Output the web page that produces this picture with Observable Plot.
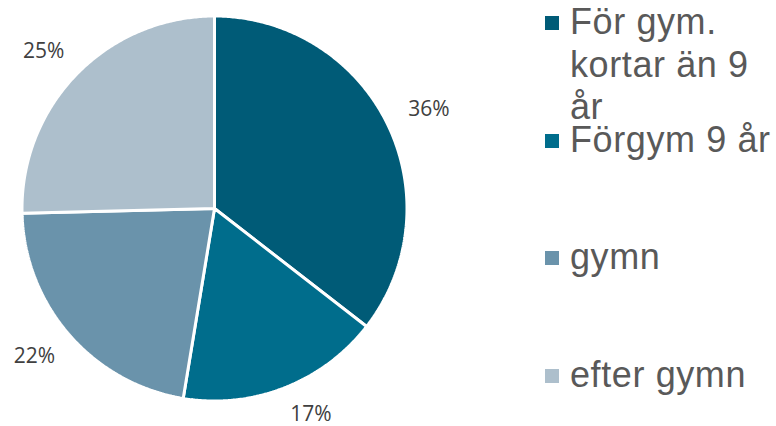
<!DOCTYPE html>
<html><head><meta charset="utf-8">
<script src="https://cdn.jsdelivr.net/npm/d3@7"></script>
<script src="https://cdn.jsdelivr.net/npm/@observablehq/plot@0.6"></script>
<style>
body{margin:0;background:#fff;}
#wrap{position:relative;width:776px;height:426px;overflow:hidden;}
#legend{position:absolute;left:545px;top:0;font-family:"Liberation Sans",Arial,sans-serif;font-size:36px;color:#595959;letter-spacing:0.6px;}
.item{position:absolute;left:0;display:flex;align-items:flex-start;line-height:42.5px;}
.sw{width:14px;height:14px;flex:none;margin-top:15px;margin-right:11px;}
.tx{width:210px;}
</style></head>
<body>
<div id="wrap"><div id="chart"></div><div id="legend"></div></div>
<script>
const categories = ["För gym. kortar än 9 år", "Förgym 9 år", "gymn", "efter gymn"];
const shares = [35.5, 17.1, 22.0, 25.4];
const colors = ["#005b77", "#006d8c", "#6a93ab", "#adbfcc"];

const total = d3.sum(shares);
let acc = 0;
const slices = categories.map((c, i) => {
  const a0 = acc / total * 2 * Math.PI;
  acc += shares[i];
  const a1 = acc / total * 2 * Math.PI;
  return {c, v: shares[i], a0, a1};
});
const outline = slices.flatMap(s => {
  const n = Math.max(2, Math.ceil((s.a1 - s.a0) / (Math.PI / 360)));
  const pts = [{c: s.c, x: 0, y: 0}];
  for (let k = 0; k <= n; k++) {
    const a = s.a0 + (s.a1 - s.a0) * k / n;
    pts.push({c: s.c, x: Math.sin(a), y: Math.cos(a)});
  }
  return pts;
});
const cx = 214, cy = 208, r = 192.5;
const Rx = 1.24, Ry = 1.17;
const yMin = -(414 - cy) / r;
const labels = slices.map(s => {
  const m = (s.a0 + s.a1) / 2;
  let x = Rx * Math.sin(m), y = Ry * Math.cos(m);
  if (y < yMin) { y = yMin; x = Math.sign(x) * Rx * Math.sqrt(1 - (y / Ry) ** 2); }
  return {x, y, label: Math.round(s.v / total * 100) + "%"};
});

const chart = Plot.plot({
  width: 776, height: 426, margin: 0,
  style: {background: "white"},
  x: {domain: [-1, 1], range: [cx - r, cx + r], axis: null},
  y: {domain: [-1, 1], range: [cy + r, cy - r], axis: null},
  color: {domain: categories, range: colors},
  marks: [
    Plot.line(outline, {x: "x", y: "y", z: "c", fill: "c", stroke: "white", strokeWidth: 3, curve: "linear-closed", strokeLinejoin: "miter"}),
    Plot.text(labels, {x: "x", y: "y", text: "label", fontSize: 21, fill: "#404040", fontFamily: "Open Sans"})
  ]
});
document.getElementById("chart").appendChild(chart);

const legend = document.getElementById("legend");
categories.forEach((c, i) => {
  const item = document.createElement("div");
  item.className = "item";
  item.style.top = (1 + i * 117.5) + "px";
  const sw = document.createElement("div");
  sw.className = "sw";
  sw.style.background = colors[i];
  const tx = document.createElement("div");
  tx.className = "tx";
  tx.textContent = c;
  item.appendChild(sw); item.appendChild(tx);
  legend.appendChild(item);
});
</script>
</body></html>
